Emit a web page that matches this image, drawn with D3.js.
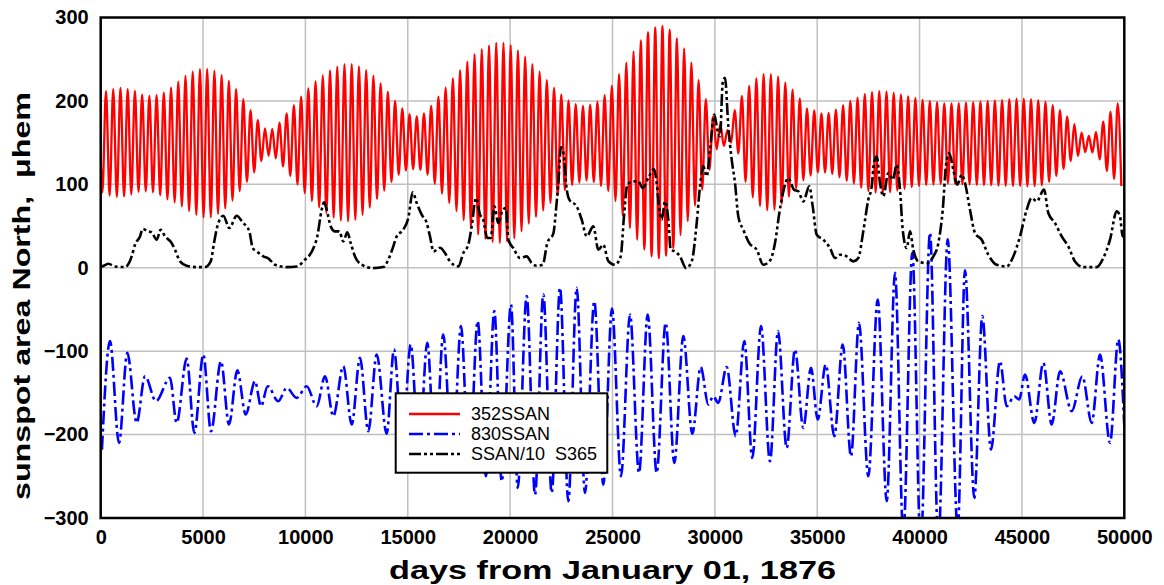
<!DOCTYPE html>
<html>
<head>
<meta charset="utf-8">
<script src="https://cdn.jsdelivr.net/npm/d3@7"></script>
<style>
  body { margin: 0; background: #fff; }
  text { font-family: Arial, "Liberation Sans", sans-serif; white-space: pre; }
</style>
</head>
<body>
<svg id="chart" width="1164" height="585"></svg>
<script>
// ---- data -------------------------------------------------------------
const xTicks = [0, 5000, 10000, 15000, 20000, 25000, 30000, 35000, 40000, 45000, 50000];
const yTicks = [-300, -200, -100, 0, 100, 200, 300];
const legendLabels = ["352SSAN", "830SSAN", "SSAN/10  S365"];

// 352-day band: one maximum and one minimum per cycle
const redPeriod = 353;      // days between successive maxima
const redFirstPeak = 259;   // day of the first maximum
const redHead = [[0, 130], [82, 90.4]];
const redPeaks = [
  211.6, 214, 215.5, 214, 212, 207.5, 206, 207, 210, 216,
  223, 230, 235, 238, 238.5, 236, 231, 224, 214, 202,
  189, 177, 167, 166.5, 174, 185, 195, 205, 215, 223.5,
  230.5, 236.5, 241, 244, 244, 241.5, 237, 230, 221, 211,
  200, 191, 184, 181.5, 185, 194, 205, 216, 227, 237,
  247, 256, 262, 266.5, 269.5, 269.6, 267, 260.5, 253, 244,
  235, 225, 215.5, 207.5, 200.5, 196, 194, 195.5, 199, 207,
  218, 232, 246, 259.5, 272.5, 282.5, 288, 290, 285.5, 275,
  263, 246, 225, 202, 181, 172, 165, 189, 206, 218,
  227, 232, 232, 229, 222, 213.5, 203, 191, 188.5, 185,
  185.5, 189.5, 195, 200, 204, 208, 210.5, 211.6, 211, 209.5,
  207.5, 205.5, 203.5, 201.5, 200, 198.5, 197, 197, 197.3, 198,
  198.6, 199.3, 200, 200.6, 201.3, 202, 202.6, 202.8, 202, 201,
  199, 195, 189, 181, 172, 162, 158, 163, 175, 187,
  197
];
const redTroughs = [
  86.5, 85, 85.5, 88, 91, 91.6, 90.5, 87, 82, 78.5,
  73.5, 68, 63.5, 60.5, 60.5, 64.5, 71, 80.5, 92, 103,
  114.5, 128, 134, 131, 121.5, 110, 99.6, 89.5, 80, 72.3,
  65.5, 60, 56.5, 55.6, 57.5, 63.5, 72, 82.5, 92.5, 102.6,
  111.5, 116.5, 118.2, 117.3, 111.5, 100.5, 89, 77.6, 68, 57.2,
  47.6, 39.8, 34.6, 30.8, 29.7, 31.4, 35.2, 43.8, 53, 61,
  68.8, 77.7, 86.8, 93, 99.2, 102.2, 104.6, 102.6, 98, 92,
  80, 62.5, 47.5, 33.5, 22, 13.8, 11.6, 14.4, 23.6, 39,
  56, 74.6, 93.8, 117.5, 142, 146, 150, 137, 103, 84.4,
  74, 69, 69.5, 76.5, 85.3, 95.2, 105, 110.6, 114.4, 114.2,
  112.4, 108.5, 104.2, 101, 96, 92, 90.2, 89.6, 90.5, 92.5,
  94.6, 96.6, 98, 99.2, 99.6, 100.3, 101, 100.4, 100, 99.6,
  99.3, 99, 98.8, 98.4, 98.2, 98, 97.8, 97.6, 97.8, 99,
  103, 110, 118.5, 128, 134, 138.5, 138.2, 130, 116, 106.5,
  98
];

// 830-day band: turning points [day, value]
const blueSeries = [
  [60, -218], [454, -88], [894, -210], [1300, -102], [1758, -186], [2164, -130],
  [2700, -160], [3385, -132], [3710, -186], [4200, -109], [4575, -198], [5012, -104],
  [5388, -196], [5876, -112], [6267, -188], [6674, -123], [7083, -176], [7537, -136],
  [7830, -166], [8157, -142], [8675, -160], [9085, -144], [9574, -156], [10062, -142],
  [10551, -166], [10957, -130], [11362, -178], [11851, -118], [12261, -188], [12666, -108],
  [13072, -196], [13482, -104], [13970, -199], [14327, -98], [14735, -212], [15143, -92],
  [15550, -222], [15953, -90], [16340, -232], [16730, -80], [17180, -238], [17600, -70],
  [18000, -244], [18414, -64], [18820, -250], [19227, -52], [19588, -256], [20042, -44],
  [20370, -264], [20808, -34], [21215, -272], [21620, -32], [22030, -270], [22436, -24],
  [22842, -280], [23250, -24], [23657, -270], [24110, -40], [24550, -260], [24975, -49],
  [25415, -250], [25855, -56], [26295, -246], [26719, -56], [27158, -246], [27598, -66],
  [28020, -234], [28459, -82], [28899, -199], [29309, -119], [29680, -164], [29920, -154],
  [30165, -162], [30578, -119], [31017, -202], [31438, -88], [31829, -228], [32254, -70],
  [32693, -232], [33085, -76], [33509, -216], [33914, -98], [34320, -192], [34696, -120],
  [35024, -182], [35414, -116], [35835, -202], [36245, -92], [36650, -226], [37041, -66],
  [37496, -250], [37955, -38], [38395, -280], [38800, -6], [39205, -320], [39645, 18],
  [40055, -335], [40509, 42], [40915, -330], [41374, 34], [41862, -315], [42218, -3],
  [42673, -276], [43064, -58], [43489, -218], [43928, -112], [44255, -166], [44627, -154],
  [44860, -158], [45152, -128], [45605, -186], [46045, -114], [46454, -188], [46860, -124],
  [47431, -172], [47949, -130], [48408, -186], [48813, -104], [49302, -210], [49707, -86],
  [50000, -190]
];

// smoothed sunspot area / 10: [day, value]
const blackSeries = [
  [0, 2], [49, 1.6], [372, 4.8], [700, 1.6], [1187, 0.8], [1514, 13.6], [1675, 27.6],
  [1920, 37.6], [2050, 46.4], [2327, 43.6], [2490, 42.4], [2735, 33.6], [2930, 45.6],
  [3141, 37.6], [3468, 29.6], [3630, 21.6], [3874, 7.6], [4200, 2.4], [4689, 0.8],
  [5095, 0.8], [5373, 7.6], [5534, 29.6], [5697, 49.6], [5990, 62.4], [6283, 47.6],
  [6643, 62.4], [6937, 54.4], [7260, 43.6], [7425, 23.6], [7620, 19.6], [7943, 13.6],
  [8200, 11], [8514, 3.6], [9086, 0.8], [9574, 1.6], [9980, 9.6], [10356, 21.6],
  [10580, 37.6], [10795, 69.6], [10908, 78.4], [11040, 69.6], [11235, 49.6], [11445, 43.6],
  [11655, 43.6], [11851, 31.6], [12046, 42.4], [12212, 29.6], [12422, 13.6], [12749, 3.6],
  [13316, -0.4], [13804, 0.8], [14048, 9.6], [14293, 25.6], [14459, 37.6], [14781, 45.6],
  [15025, 59.6], [15240, 90.4], [15436, 77.6], [15680, 63.6], [15925, 53.6], [16085, 37.6],
  [16260, 19.6], [16574, 24], [16818, 17.6], [17062, 7.6], [17468, 1.6], [17712, 17.6],
  [17956, 27.6], [18122, 49.6], [18333, 83.6], [18528, 63.6], [18689, 57.6], [18885, 35.6],
  [19051, 35.6], [19227, 73.6], [19422, 53.6], [19637, 69.6], [19798, 71.6], [19910, 33.6],
  [20155, 23.6], [20482, 11.6], [20808, 13.6], [21053, 5.6], [21297, 2.4], [21590, 3.6],
  [21815, 29.6], [22109, 40.8], [22241, 69.6], [22353, 101.6], [22485, 144.8], [22631, 133.6],
  [22729, 101.6], [22890, 81.6], [23251, 73.6], [23496, 57.6], [23740, 37.6], [24063, 49.6],
  [24307, 21.6], [24551, 27.6], [24795, 8], [25121, 3.6], [25400, 13.6], [25561, 61.6],
  [25723, 99.6], [26016, 103.6], [26261, 103.6], [26475, 95.6], [26749, 107.6], [27028, 118.4],
  [27159, 101.6], [27286, 69.6], [27404, 57.6], [27565, 79.6], [27726, 57.6], [27843, 21.6],
  [28053, 19.6], [28298, 13.6], [28591, -0.4], [28869, 7.6], [29113, 53.6], [29274, 97.6],
  [29436, 121.6], [29601, 109.6], [29763, 141.6], [29973, 183.6], [30120, 165.6], [30252, 157.6],
  [30383, 221.6], [30496, 227.6], [30657, 169.6], [30823, 129.6], [30984, 101.6], [31145, 61.6],
  [31389, 45.6], [31682, 29.6], [32044, 21.6], [32366, 3.6], [32694, 8.6], [32938, 29.6],
  [33149, 65.6], [33344, 91.6], [33588, 107.6], [33867, 93.6], [34076, 91.6], [34320, 79.6],
  [34613, 97.6], [34780, 73.6], [34975, 39.6], [35298, 33.6], [35625, 23.6], [35869, 11.6],
  [36113, 15.6], [36440, 13.6], [36762, 7.6], [37006, 11.6], [37250, 43.6], [37495, 81.6],
  [37661, 97.6], [37772, 125.6], [37906, 133.6], [38067, 101.6], [38229, 85.6], [38473, 113.6],
  [38687, 105.6], [38883, 123.6], [39044, 93.6], [39176, 45.6], [39371, 23.6], [39532, 43.6],
  [39694, 21.6], [39938, 7.6], [40348, 5.6], [40673, 13.6], [40917, 29.6], [41132, 69.6],
  [41300, 125], [41452, 137.6], [41647, 117.6], [41843, 99.6], [42057, 111.6], [42218, 101.6],
  [42462, 69.6], [42707, 41.6], [43034, 33.6], [43356, 15.6], [43767, 3.6], [44255, 1.6],
  [44578, 13.6], [44905, 37.6], [45232, 69.6], [45478, 83.6], [45720, 79.6], [46078, 93.6],
  [46288, 65.6], [46615, 53.6], [46942, 37.6], [47264, 25.6], [47592, 7.6], [47998, 0.8],
  [48652, 0.8], [48975, 11.6], [49302, 33.6], [49629, 67.6], [49790, 61.6], [49922, 37.6],
  [50000, 38]
];

// ---- layout -----------------------------------------------------------
const svg = d3.select("#chart");
const margin = { left: 100.7, top: 17.5, right: 1164 - 1124.3, bottom: 585 - 518 };
const W = 1164 - margin.left - margin.right;
const H = 585 - margin.top - margin.bottom;

const x = d3.scaleLinear().domain([0, 50000]).range([0, W]);
const y = d3.scaleLinear().domain([-300, 300]).range([H, 0]);

const g = svg.append("g").attr("transform", `translate(${margin.left},${margin.top})`);

g.append("defs").append("clipPath").attr("id", "plotClip")
  .append("rect").attr("x", 0).attr("y", 0).attr("width", W).attr("height", H);

// grid
g.append("g").attr("class", "grid-x")
  .selectAll("line").data(xTicks.slice(1, -1)).join("line")
  .attr("x1", d => x(d)).attr("x2", d => x(d)).attr("y1", 0).attr("y2", H)
  .attr("stroke", "#c0c0c0").attr("stroke-width", 1.5);
g.append("g").attr("class", "grid-y")
  .selectAll("line").data(yTicks.slice(1, -1)).join("line")
  .attr("y1", d => y(d)).attr("y2", d => y(d)).attr("x1", 0).attr("x2", W)
  .attr("stroke", "#c0c0c0").attr("stroke-width", 1.5);

// series
const redPoints = redHead.slice();
redPeaks.forEach((v, k) => {
  redPoints.push([redFirstPeak + k * redPeriod, v]);
  redPoints.push([redFirstPeak + (k + 0.5) * redPeriod, redTroughs[k]]);
});

const line = d3.line().x(d => x(d[0])).y(d => y(d[1])).curve(d3.curveMonotoneX);
const plot = g.append("g").attr("clip-path", "url(#plotClip)");

plot.append("path").datum(redPoints)
  .attr("d", line).attr("fill", "none")
  .attr("stroke", "#ff0000").attr("stroke-width", 2.3).attr("stroke-linejoin", "round");

plot.append("path").datum(blueSeries)
  .attr("d", line).attr("fill", "none")
  .attr("stroke", "#0000ff").attr("stroke-width", 2.6)
  .attr("stroke-dasharray", "14,4,3,4");

plot.append("path").datum(blackSeries)
  .attr("d", line).attr("fill", "none")
  .attr("stroke", "#000000").attr("stroke-width", 2.6)
  .attr("stroke-dasharray", "12,3,3,3,3,3");

// frame
g.append("rect").attr("x", 0).attr("y", 0).attr("width", W).attr("height", H)
  .attr("fill", "none").attr("stroke", "#000").attr("stroke-width", 2.5);

// axes
const xAxis = g.append("g").attr("transform", `translate(0,${H})`)
  .call(d3.axisBottom(x).tickValues(xTicks).tickSize(0).tickPadding(12).tickFormat(d3.format("d")));
const yAxis = g.append("g")
  .call(d3.axisLeft(y).tickValues(yTicks).tickSize(0).tickPadding(12).tickFormat(d3.format("d")));
[xAxis, yAxis].forEach(a => {
  a.select(".domain").remove();
  a.selectAll("text").attr("font-size", 20).attr("font-weight", "bold")
    .attr("fill", "#000").attr("font-family", "Arial, 'Liberation Sans', sans-serif");
});

svg.append("text")
  .attr("x", margin.left + W / 2).attr("y", 579)
  .attr("text-anchor", "middle").attr("font-size", 25).attr("font-weight", "bold")
  .attr("textLength", 447).attr("lengthAdjust", "spacingAndGlyphs")
  .text("days from January 01, 1876");

svg.append("text")
  .attr("transform", "translate(30,296) rotate(-90)")
  .attr("text-anchor", "middle").attr("font-size", 24).attr("font-weight", "bold")
  .attr("textLength", 408).attr("lengthAdjust", "spacingAndGlyphs")
  .text("sunspot area North,  \u03bchem");

// legend
const legend = svg.append("g").attr("transform", "translate(395.7,393.3)");
legend.append("rect").attr("width", 211.6).attr("height", 79.4)
  .attr("fill", "#fff").attr("stroke", "#000").attr("stroke-width", 2);
const styles = [
  { color: "#ff0000", dash: null },
  { color: "#0000ff", dash: "14,4,3,4" },
  { color: "#000000", dash: "12,3,3,3,3,3" }
];
const rows = legend.selectAll("g.row").data(legendLabels).join("g")
  .attr("class", "row").attr("transform", (d, i) => `translate(0,${20.7 + i * 20})`);
rows.append("line").attr("x1", 13.3).attr("x2", 64.3).attr("y1", 0).attr("y2", 0)
  .attr("stroke", (d, i) => styles[i].color).attr("stroke-width", 2.3)
  .attr("stroke-dasharray", (d, i) => styles[i].dash);
rows.append("text").attr("x", 75.3).attr("dy", "0.35em")
  .attr("font-size", 18).attr("fill", "#000").text(d => d);
</script>
</body>
</html>
